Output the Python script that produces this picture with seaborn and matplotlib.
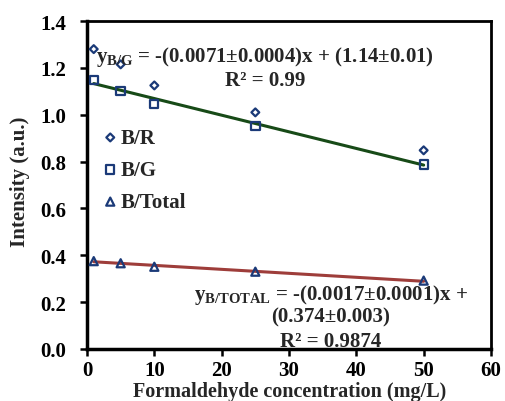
import matplotlib
matplotlib.use("Agg")
import matplotlib.pyplot as plt
import seaborn as sns
import numpy as np
import pandas as pd

# ---- data ----
concentration = [1, 5, 10, 25, 50]
b_r = [1.28, 1.215, 1.125, 1.01, 0.848]
b_g = [1.148, 1.102, 1.045, 0.953, 0.787]
b_total = [0.375, 0.366, 0.351, 0.33, 0.292]
series_names = ["B/R", "B/G", "B/Total"]
fit_x = [1, 50]
fit_bg_slope, fit_bg_intercept = -0.0071, 1.14
fit_bt_slope, fit_bt_intercept = -0.0017, 0.374
x_ticks = [0, 10, 20, 30, 40, 50, 60]
y_ticks = [0.0, 0.2, 0.4, 0.6, 0.8, 1.0, 1.2, 1.4]

sns.set_theme(style="white")
plt.rcParams["font.family"] = ["Liberation Serif", "DejaVu Serif"]
plt.rcParams["font.weight"] = "bold"
plt.rcParams["mathtext.fontset"] = "custom"
plt.rcParams["mathtext.rm"] = "Liberation Serif:bold"
plt.rcParams["mathtext.it"] = "Liberation Serif:bold"
plt.rcParams["mathtext.bf"] = "Liberation Serif:bold"

navy = "#1B3A78"
green = "#174A17"
red = "#9E3D3A"
FS = 15

fig = plt.figure(figsize=(5.05, 4.02), dpi=100)
ax = fig.add_axes([87/505, 52/402, (491-87)/505, (350-22)/402])

df_fit = pd.DataFrame({
    "x": fit_x * 2,
    "y": [fit_bg_intercept + fit_bg_slope * v for v in fit_x] +
         [fit_bt_intercept + fit_bt_slope * v for v in fit_x],
    "fit": ["B/G"] * 2 + ["B/Total"] * 2,
})
sns.lineplot(data=df_fit, x="x", y="y", hue="fit", palette=[green, red],
             linewidth=2.2, legend=False, ax=ax, zorder=2)

markers = {"B/R": "D", "B/G": "s", "B/Total": "^"}
sizes = {"B/R": 16, "B/G": 36, "B/Total": 34}
handles = []
for name, vals in zip(series_names, [b_r, b_g, b_total]):
    sns.scatterplot(x=concentration, y=vals, marker=markers[name], s=sizes[name],
                    ax=ax, zorder=3, legend=False)
    coll = ax.collections[-1]
    coll.set_facecolor("none")
    coll.set_edgecolor(navy)
    coll.set_linewidth(1.6)
    coll.set_label(name)
    handles.append(coll)

leg = fig.legend(handles=handles, loc="center left",
                 bbox_to_anchor=(104/505, 1 - 171/402),
                 frameon=False, fontsize=FS, handletextpad=0.2, labelspacing=0.58,
                 handlelength=0.6, borderpad=0, borderaxespad=0)
for t in leg.get_texts():
    t.set_fontweight("bold")

ax.set_xlim(0, 60)
ax.set_ylim(0, 1.4)
ax.set_xticks(x_ticks)
ax.set_yticks(y_ticks)
ax.set_yticklabels([f"{v:.1f}" for v in y_ticks])
ax.tick_params(axis="both", direction="out", length=5, width=1.8, labelsize=FS,
               colors="black", bottom=True, left=True)
ax.tick_params(axis="y", pad=10)
ax.tick_params(axis="x", pad=3)
for lbl in ax.get_xticklabels() + ax.get_yticklabels():
    lbl.set_fontweight("bold")
for s in ax.spines.values():
    s.set_color("black")
    s.set_linewidth(2)
ax.spines["left"].set_linewidth(2.5)
ax.spines["bottom"].set_linewidth(2.5)

ax.set_xlabel("")
ax.set_ylabel("")
fig.text(290/505, 1 - 392/402, "Formaldehyde concentration (mg/L)",
         ha="center", va="center", fontsize=14.5, fontweight="bold")
fig.text(20/505, 1 - 182/402, "Intensity (a.u.)", rotation=90,
         ha="center", va="center", fontsize=FS, fontweight="bold")

fig.text(265/505, 1 - 57/402, r"y$_{\mathrm{B/G}}$ = -(0.0071±0.0004)x + (1.14±0.01)",
         ha="center", va="center", fontsize=FS, fontweight="bold")
fig.text(265/505, 1 - 81/402, "R² = 0.99", ha="center", va="center",
         fontsize=FS, fontweight="bold")
fig.text(331/505, 1 - 295/402, r"y$_{\mathrm{B/TOTAL}}$ = -(0.0017±0.0001)x +",
         ha="center", va="center", fontsize=FS, fontweight="bold")
fig.text(331/505, 1 - 317/402, "(0.374±0.003)", ha="center", va="center",
         fontsize=FS, fontweight="bold")
fig.text(331/505, 1 - 342/402, "R² = 0.9874", ha="center", va="center",
         fontsize=FS, fontweight="bold")

fig.savefig("out.png", dpi=100, facecolor="white")
